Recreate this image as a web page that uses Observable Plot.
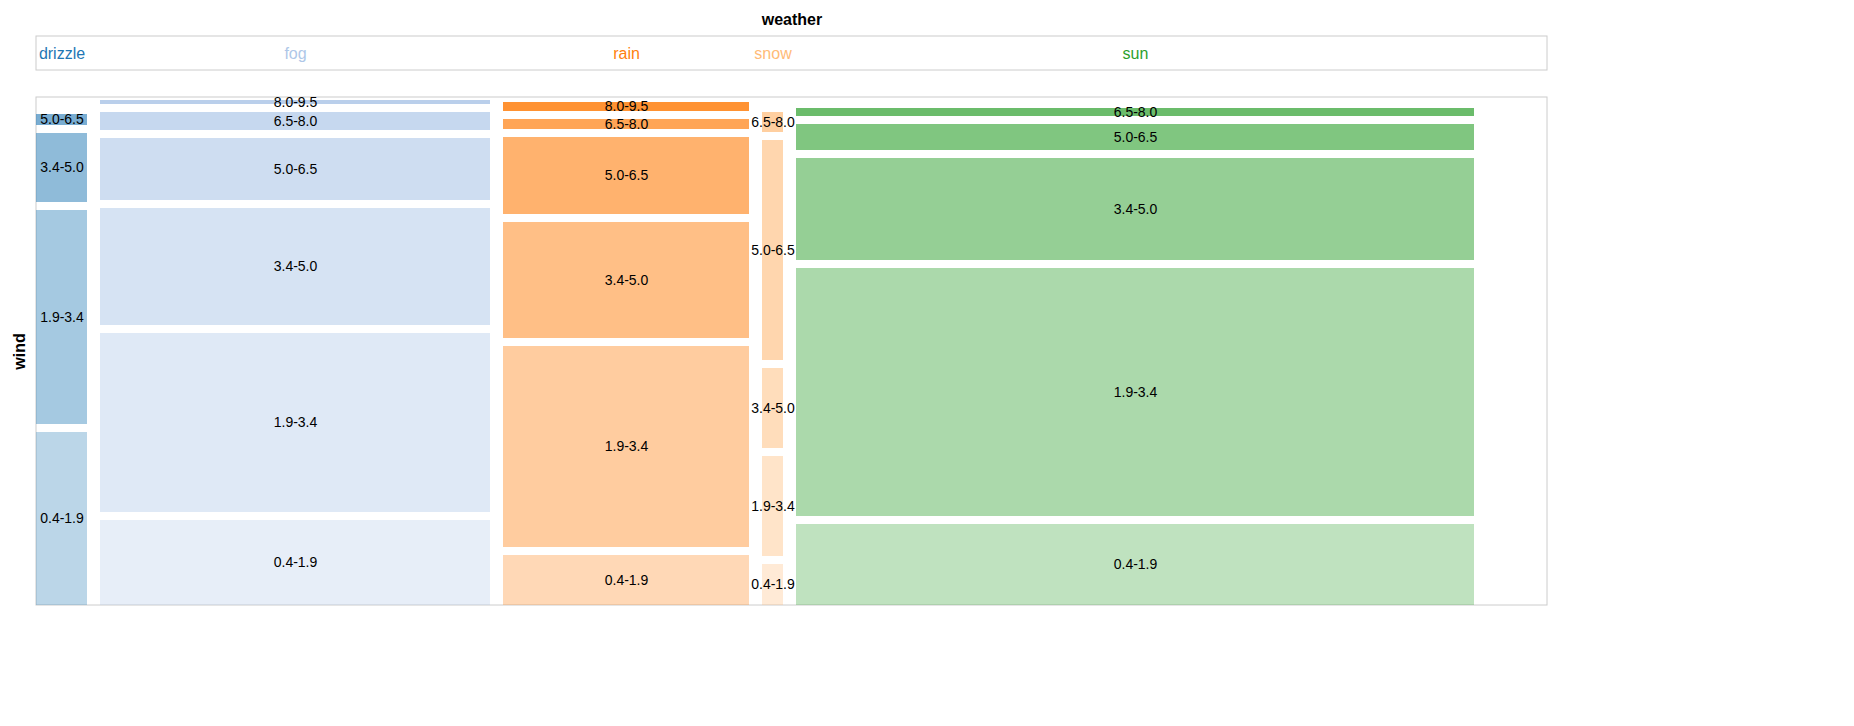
<!DOCTYPE html>
<html>
<head>
<meta charset="utf-8">
<script src="https://cdn.jsdelivr.net/npm/d3@7"></script>
<script src="https://cdn.jsdelivr.net/npm/@observablehq/plot@0.6"></script>
<style>
  body { margin: 0; background: #fff; font-family: Helvetica, Arial, "Liberation Sans", sans-serif; }
</style>
</head>
<body>
<div id="chart"></div>
<script>
// categorias
const weathers = ["drizzle", "fog", "rain", "snow", "sun"];
const colors = ["#1f77b4", "#aec7e8", "#ff7f0e", "#ffbb78", "#2ca02c"];
const winds = ["0.4-1.9", "1.9-3.4", "3.4-5.0", "5.0-6.5", "6.5-8.0", "8.0-9.5"];
const windOpacity = [0.3, 0.4, 0.5, 0.6, 0.7, 0.85];

// ancho de cada columna
const widths = [51, 390, 246, 21, 678];
// alto de cada segmento por viento, de abajo hacia arriba
const heights = {
  drizzle: [173, 214, 69, 11],
  fog: [85, 179, 117, 62, 18, 4],
  rain: [50, 201, 116, 77, 10, 9],
  snow: [41, 100, 80, 220, 20],
  sun: [81, 248, 102, 26, 8]
};
const gapX = 13, gapY = 8;
const totalW = 1511, plotH = 508;

const cells = [];
const cols = [];
let x = 0;
weathers.forEach((w, i) => {
  cols.push({weather: w, x: x + widths[i] / 2, color: colors[i]});
  let y = 0;
  heights[w].forEach((h, j) => {
    cells.push({weather: w, wind: winds[j], x1: x, x2: x + widths[i], y1: y, y2: y + h,
      color: colors[i], op: windOpacity[j]});
    y += h + gapY;
  });
  x += widths[i] + gapX;
});

let chart = Plot.plot({
  width: 1560,
  height: 610,
  marginLeft: 36,
  marginRight: 13,
  marginTop: 0,
  marginBottom: 5,
  x: {domain: [0, totalW], axis: null},
  y: {domain: [0, 605], axis: null},
  style: {fontFamily: "Helvetica, Arial, 'Liberation Sans', sans-serif", overflow: "visible"},
  marks: [
    Plot.rect([{}], {x1: 0, x2: totalW, y1: 0, y2: plotH, fill: "none", stroke: "#ccc"}),
    Plot.rect([{}], {x1: 0, x2: totalW, y1: 535, y2: 569, fill: "none", stroke: "#ccc"}),
    Plot.rect(cells, {x1: "x1", x2: "x2", y1: "y1", y2: "y2", fill: "color", fillOpacity: "op"}),
    Plot.text(cells, {x: d => (d.x1 + d.x2) / 2, y: d => (d.y1 + d.y2) / 2, text: "wind",
      fontSize: 14, fill: "black"}),
    Plot.text(cols, {x: "x", y: 552, text: "weather", fill: "color", fontSize: 16}),
    Plot.text(["weather"], {x: totalW / 2, y: 586, text: d => d, fontSize: 16, fontWeight: "bold"}),
    Plot.text(["wind"], {x: 0, dx: -17, y: plotH / 2, text: d => d, rotate: -90,
      fontSize: 16, fontWeight: "bold"})
  ]
});

d3.select('#chart').append(() => chart);
</script>
</body>
</html>
